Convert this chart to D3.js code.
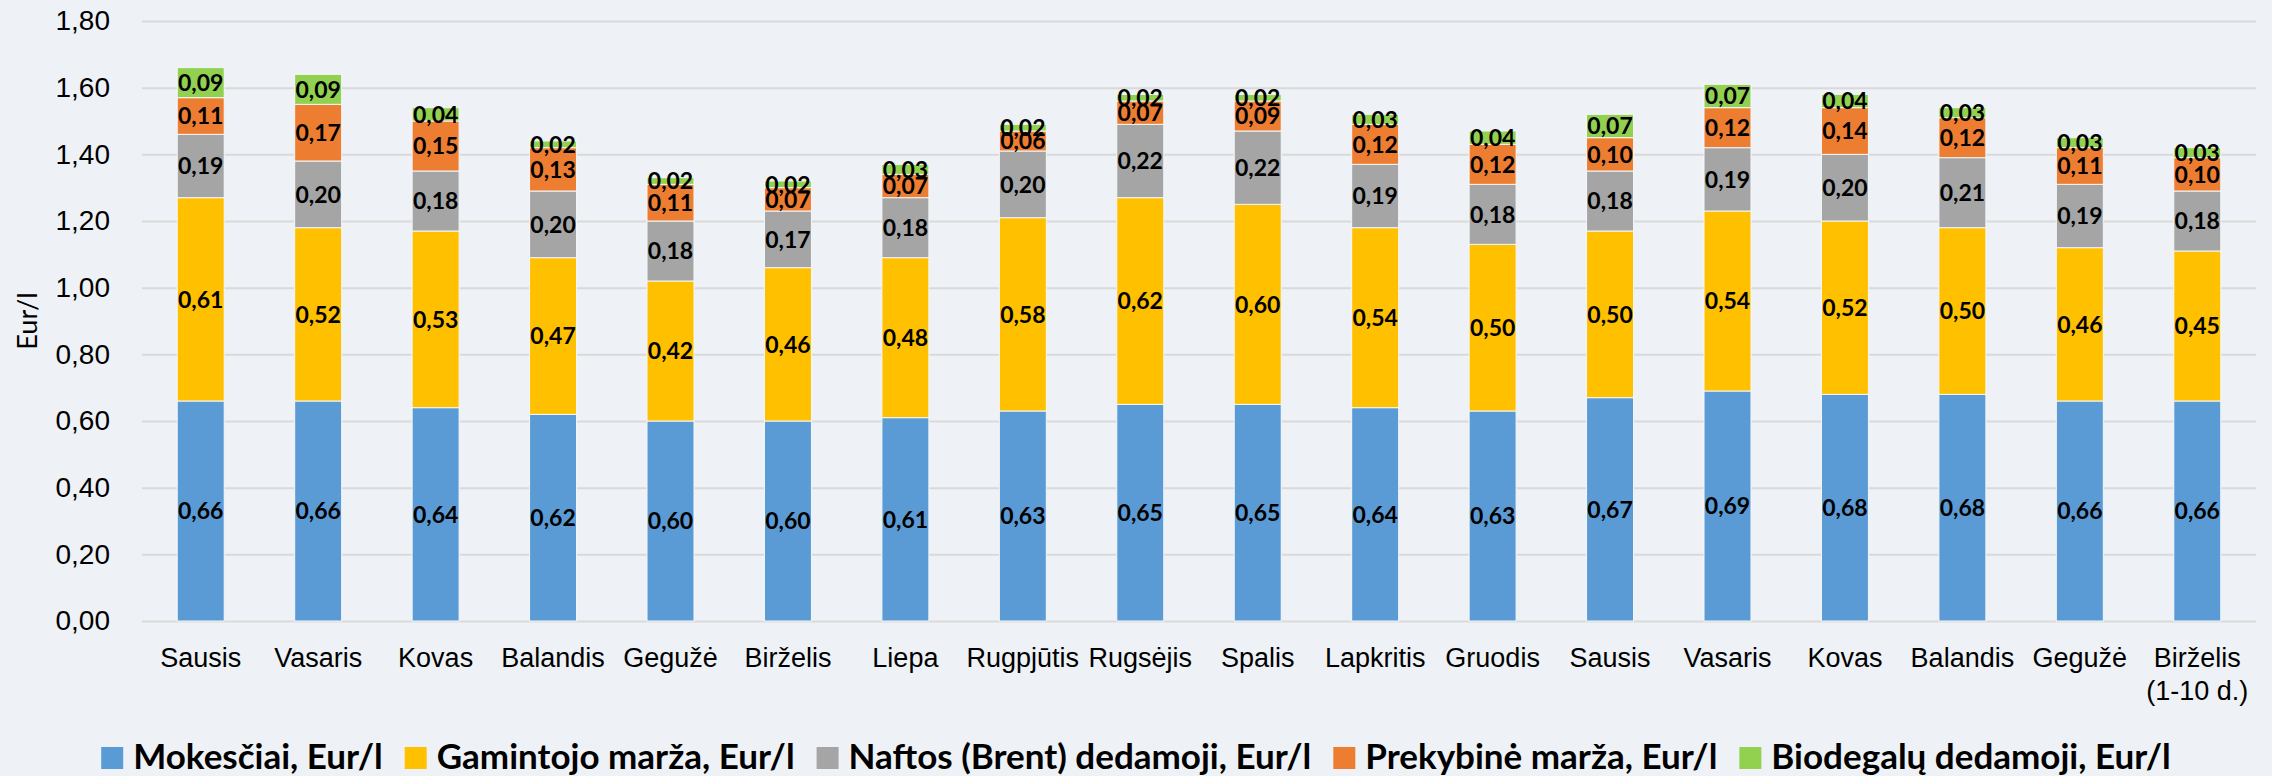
<!DOCTYPE html>
<html>
<head>
<meta charset="utf-8">
<script src="https://cdn.jsdelivr.net/npm/d3@7"></script>
<style>
  html, body { margin: 0; padding: 0; background: #eef2f6; }
  svg { display: block; font-family: Lato, "Open Sans", sans-serif; }
</style>
</head>
<body>
<div class="graph-container"></div>
<script>
// Chart data
const categories = ['Sausis', 'Vasaris', 'Kovas', 'Balandis', 'Gegužė', 'Birželis',
                    'Liepa', 'Rugpjūtis', 'Rugsėjis', 'Spalis', 'Lapkritis', 'Gruodis',
                    'Sausis', 'Vasaris', 'Kovas', 'Balandis', 'Gegužė', 'Birželis\n(1-10 d.)'];

const mokesciai = [0.66, 0.66, 0.64, 0.62, 0.60, 0.60, 0.61, 0.63, 0.65, 0.65, 0.64, 0.63,
                   0.67, 0.69, 0.68, 0.68, 0.66, 0.66];
const gamintojoMarza = [0.61, 0.52, 0.53, 0.47, 0.42, 0.46, 0.48, 0.58, 0.62, 0.60, 0.54, 0.50,
                        0.50, 0.54, 0.52, 0.50, 0.46, 0.45];
const naftosDedamoji = [0.19, 0.20, 0.18, 0.20, 0.18, 0.17, 0.18, 0.20, 0.22, 0.22, 0.19, 0.18,
                        0.18, 0.19, 0.20, 0.21, 0.19, 0.18];
const prekybineMarza = [0.11, 0.17, 0.15, 0.13, 0.11, 0.07, 0.07, 0.06, 0.07, 0.09, 0.12, 0.12,
                        0.10, 0.12, 0.14, 0.12, 0.11, 0.10];
const biodegaluDedamoji = [0.09, 0.09, 0.04, 0.02, 0.02, 0.02, 0.03, 0.02, 0.02, 0.02, 0.03, 0.04,
                           0.07, 0.07, 0.04, 0.03, 0.03, 0.03];

const seriesNames = ['Mokesčiai, Eur/l', 'Gamintojo marža, Eur/l', 'Naftos (Brent) dedamoji, Eur/l',
                     'Prekybinė marža, Eur/l', 'Biodegalų dedamoji, Eur/l'];
const seriesValues = [mokesciai, gamintojoMarza, naftosDedamoji, prekybineMarza, biodegaluDedamoji];
const seriesColors = ['#5b9bd5', '#ffc000', '#a5a5a5', '#ed7d31', '#92d050'];

const yTicks = [0, 0.2, 0.4, 0.6, 0.8, 1.0, 1.2, 1.4, 1.6, 1.8];
const yTitle = 'Eur/l';

// Layout
const width = 2272, height = 776;
const margin = {left: 142, right: 16, top: 21, bottom: 155};
const plotWidth = width - margin.left - margin.right;
const plotHeight = height - margin.top - margin.bottom;

const lt = d3.formatLocale({decimal: ',', thousands: ' ', grouping: [3], currency: ['', '€']});
const fmt = lt.format('.2f');

// Table for the stack
const table = categories.map((c, i) => {
  let row = {idx: i};
  seriesNames.forEach((s, k) => { row[s] = seriesValues[k][i]; });
  return row;
});
const stacked = d3.stack().keys(seriesNames)(table);

const svg = d3.select('.graph-container')
              .append('svg')
              .attr('width', width)
              .attr('height', height)
              .attr('viewBox', `0 0 ${width} ${height}`);

svg.append('rect')
   .attr('width', width)
   .attr('height', height)
   .attr('fill', '#eef2f6');

const panel = svg.append('g')
                 .attr('transform', `translate(${margin.left},${margin.top})`);

const xScale = d3.scaleBand()
                 .domain(d3.range(categories.length))
                 .range([0, plotWidth])
                 .paddingInner(0.6)
                 .paddingOuter(0.3);
const yScale = d3.scaleLinear()
                 .domain([0, 1.8])
                 .range([plotHeight, 0]);

// Grid and y axis
const yAxis = d3.axisLeft(yScale)
                .tickValues(yTicks)
                .tickSize(-plotWidth)
                .tickPadding(32)
                .tickFormat(fmt);

panel.append('g')
     .attr('class', 'axis y-axis')
     .call(yAxis)
     .call(g => g.select('.domain').remove())
     .call(g => g.selectAll('.tick line')
                 .attr('stroke', '#d9d9d9')
                 .attr('stroke-width', 2))
     .call(g => g.selectAll('.tick text')
                 .attr('fill', '#000')
                 .attr('font-size', 28));

svg.append('text')
   .attr('transform', `translate(37,${margin.top + plotHeight / 2}) rotate(-90)`)
   .attr('text-anchor', 'middle')
   .attr('font-size', 27)
   .attr('fill', '#000')
   .text(yTitle);

// x axis labels
const xAxis = d3.axisBottom(xScale)
                .tickSize(0)
                .tickFormat(i => categories[i]);

panel.append('g')
     .attr('class', 'axis x-axis')
     .attr('transform', `translate(0,${plotHeight})`)
     .call(xAxis)
     .call(g => g.select('.domain').remove())
     .call(g => g.selectAll('.tick text')
                 .attr('fill', '#000')
                 .attr('font-size', 27)
                 .attr('y', 46)
                 .attr('dy', null)
                 .each(function(i) {
                   let lines = categories[i].split('\n');
                   let t = d3.select(this).text(null);
                   lines.forEach((l, k) => {
                     t.append('tspan')
                      .attr('x', 0)
                      .attr('dy', k === 0 ? 0 : 33)
                      .text(l);
                   });
                 }));

// Bars
const layers = panel.append('g')
                    .attr('class', 'plot')
                    .selectAll('g')
                    .data(stacked)
                    .join('g')
                    .attr('fill', (d, k) => seriesColors[k]);

layers.selectAll('rect')
      .data(d => d)
      .join('rect')
      .attr('x', d => xScale(d.data.idx))
      .attr('y', d => yScale(d[1]))
      .attr('width', xScale.bandwidth())
      .attr('height', d => yScale(d[0]) - yScale(d[1]))
      .attr('stroke', '#f4f7fa')
      .attr('stroke-width', 1);

// Data labels
const labels = panel.append('g').attr('class', 'labels');
stacked.forEach(layer => {
  labels.selectAll(null)
        .data(layer)
        .join('text')
        .attr('x', d => xScale(d.data.idx) + xScale.bandwidth() / 2)
        .attr('y', d => yScale((d[0] + d[1]) / 2))
        .attr('dy', '0.36em')
        .attr('text-anchor', 'middle')
        .attr('font-size', 23)
        .attr('font-weight', 'bold')
        .attr('fill', '#000')
        .text(d => fmt(d[1] - d[0]));
});

// Legend
const legend = svg.append('g').attr('class', 'legend');
const items = legend.selectAll('g')
                    .data(seriesNames)
                    .join('g');
items.append('rect')
     .attr('width', 22)
     .attr('height', 22)
     .attr('y', -22)
     .attr('fill', (d, k) => seriesColors[k]);
items.append('text')
     .attr('x', 32)
     .attr('font-size', 35)
     .attr('font-weight', 'bold')
     .attr('fill', '#000')
     .text(d => d);

let offset = 0;
items.each(function() {
  let w = this.getBBox().width;
  d3.select(this).attr('transform', `translate(${offset},0)`);
  offset += w + 22;
});
const legendWidth = offset - 22;
legend.attr('transform', `translate(${(width - legendWidth) / 2},769)`);
</script>
</body>
</html>
